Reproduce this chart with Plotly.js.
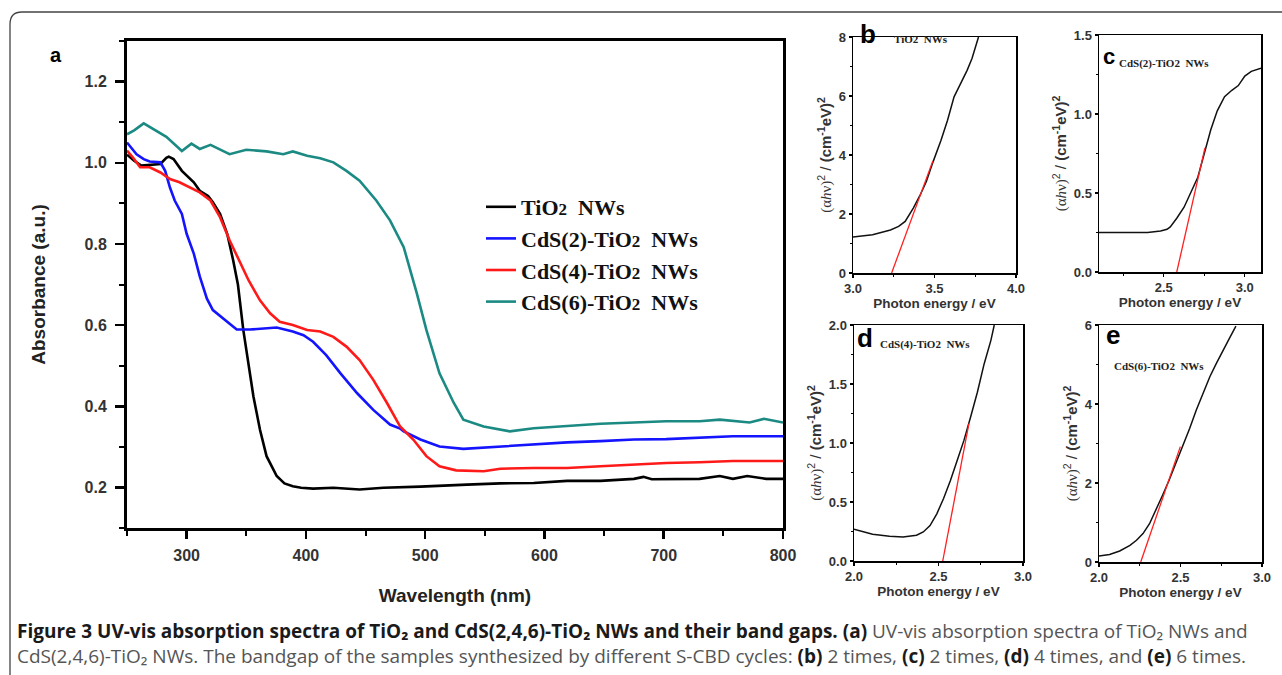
<!DOCTYPE html>
<html>
<head>
<meta charset="utf-8">
<script src="https://cdn.plot.ly/plotly-3.0.1.min.js"></script>
<style>
  html, body { margin: 0; padding: 0; background: #fff; }
  #chart { width: 1282px; height: 675px; }
</style>
</head>
<body>
<div id="chart"></div>
<script>
// ---------- Panel (a): UV-vis absorption spectra ----------
const seriesNames = ['TiO2  NWs', 'CdS(2)-TiO2  NWs', 'CdS(4)-TiO2  NWs', 'CdS(6)-TiO2  NWs'];

const tio2Wl  = [250,256,262,270,278,283,285,289,296,306,311,318,322,328,334,339,343,347.5,352,356,361.5,367,375.5,382,389,396,406,423,445,465,496,507,535,563,591,619,647,675,683,690,702,730,747,758,770,786,800];
const tio2Abs = [1.02,1.005,0.993,0.995,0.997,1.012,1.015,1.009,0.980,0.952,0.931,0.918,0.903,0.874,0.825,0.760,0.700,0.588,0.506,0.424,0.342,0.277,0.228,0.210,0.203,0.199,0.197,0.199,0.195,0.199,0.202,0.203,0.207,0.210,0.211,0.216,0.216,0.221,0.226,0.220,0.220,0.221,0.228,0.221,0.228,0.221,0.221];

const cds2Wl  = [250,251,258,264,269,278,282,286,290,296,300,306,311,317,322,334,342,353,367,375.5,389,398,406,417,429,443,456.5,470.5,479,482,496,512,532,563,591,619,647,675,702,730,758,800];
const cds2Abs = [1.05,1.046,1.021,1.009,1.003,1.001,0.980,0.939,0.907,0.874,0.825,0.776,0.720,0.665,0.637,0.608,0.589,0.589,0.592,0.594,0.584,0.575,0.559,0.526,0.481,0.432,0.391,0.355,0.345,0.338,0.318,0.301,0.295,0.301,0.306,0.311,0.314,0.318,0.319,0.322,0.326,0.326];

const cds4Wl  = [250,255,261,269,278,286,294,303,311,320,328,336,345,352,361.5,370,378,389,401,412,423,434,445,456.5,468,479,490,496,501,512,526,549,563,591,619,647,675,702,730,758,800];
const cds4Abs = [1.03,1.013,0.989,0.989,0.976,0.960,0.952,0.939,0.927,0.907,0.866,0.809,0.751,0.710,0.661,0.629,0.608,0.600,0.588,0.584,0.571,0.547,0.514,0.465,0.408,0.350,0.318,0.295,0.277,0.252,0.242,0.240,0.246,0.248,0.248,0.252,0.256,0.260,0.262,0.265,0.265];

const cds6Wl  = [250,256,264,275,283,296,304,311,320,336,350,367,381,389,401,412,423,434,445,459,470.5,482,490,493,501,512,524,532,549,571,591,619,647,675,702,730,747,772,784,800];
const cds6Abs = [1.07,1.08,1.097,1.078,1.064,1.029,1.047,1.034,1.044,1.021,1.032,1.028,1.021,1.028,1.017,1.011,1.001,0.980,0.956,0.907,0.858,0.792,0.710,0.678,0.588,0.481,0.408,0.367,0.350,0.338,0.346,0.352,0.357,0.360,0.363,0.363,0.367,0.360,0.369,0.360];

const seriesColors = ['#000000', '#1414ff', '#ff1a1a', '#1b8a83'];

// ---------- Panel (b): TiO2 NWs band gap ----------
const bEnergy = [3.0,3.12,3.23,3.28,3.32,3.37,3.41,3.45,3.49,3.54,3.58,3.62,3.66,3.70,3.73,3.76,3.77];
const bSignal = [1.22,1.30,1.46,1.58,1.75,2.20,2.62,3.10,3.75,4.50,5.18,5.97,6.42,6.87,7.27,7.89,8.0];
const bFitE = [3.237, 3.49];
const bFitY = [0, 3.8];

// ---------- Panel (c): CdS(2)-TiO2 NWs ----------
const cEnergy = [2.1,2.2,2.3,2.4,2.48,2.52,2.54,2.58,2.625,2.667,2.71,2.75,2.79,2.83,2.875,2.92,2.96,3.0,3.04,3.1];
const cSignal = [0.25,0.249,0.249,0.25,0.26,0.27,0.285,0.34,0.41,0.50,0.60,0.75,0.90,1.02,1.11,1.15,1.18,1.24,1.27,1.29];
const cFitE = [2.58, 2.754];
const cFitY = [0, 0.786];

// ---------- Panel (d): CdS(4)-TiO2 NWs ----------
const dEnergy = [2.0,2.11,2.21,2.29,2.37,2.41,2.45,2.49,2.53,2.57,2.61,2.65,2.69,2.73,2.77,2.81,2.83];
const dSignal = [0.269,0.226,0.209,0.204,0.218,0.246,0.30,0.40,0.53,0.68,0.85,1.02,1.22,1.43,1.67,1.87,2.0];
const dFitE = [2.525, 2.68];
const dFitY = [0, 1.165];

// ---------- Panel (e): CdS(6)-TiO2 NWs ----------
const eEnergy = [2.0,2.065,2.127,2.19,2.23,2.27,2.31,2.35,2.39,2.43,2.47,2.515,2.556,2.597,2.64,2.68,2.72,2.76,2.80,2.84];
const eSignal = [0.15,0.19,0.28,0.42,0.55,0.72,0.97,1.31,1.69,2.07,2.49,2.92,3.38,3.85,4.27,4.69,5.03,5.33,5.66,5.97];
const eFitE = [2.256, 2.499];
const eFitY = [0, 2.92];

// ---------- Text ----------
const panelLabels = ['a', 'b', 'c', 'd', 'e'];
const panelNames = ['TiO2  NWs', 'CdS(2)-TiO2  NWs', 'CdS(4)-TiO2  NWs', 'CdS(6)-TiO2  NWs'];
const B = t => '<span style="color:#1a1a1a"><b>' + t + '</b></span>';
const captionText =
  B('Figure 3 UV-vis absorption spectra of TiO₂ and CdS(2,4,6)-TiO₂ NWs and their band gaps. (a)') +
  ' UV-vis absorption spectra of TiO₂ NWs and<br>' +
  'CdS(2,4,6)-TiO₂ NWs. The bandgap of the samples synthesized by different S-CBD cycles: ' +
  B('(b)') + ' 2 times, ' + B('(c)') + ' 2 times, ' + B('(d)') + ' 4 times, and ' + B('(e)') + ' 6 times.';
const bandYTitle = '<span style="font-family:Liberation Serif">(α<i>h</i>ν)</span><sup>2</sup> / <b>(cm<sup>-1</sup>eV)<sup>2</sup></b>';

const W = 1282, H = 675;
const px = v => v / W;
const py = v => 1 - v / H;

const SANS = 'Liberation Sans, Arial, sans-serif';
const SERIF = 'Liberation Serif, Times New Roman, serif';

function legendName(s) {
  return s.replace('TiO2', 'TiO<span style="font-size:17px">2</span>');
}

const traces = [];
const mainX = [tio2Wl, cds2Wl, cds4Wl, cds6Wl];
const mainY = [tio2Abs, cds2Abs, cds4Abs, cds6Abs];
for (let i = 0; i < 4; i++) {
  traces.push({
    x: mainX[i], y: mainY[i], type: 'scatter', mode: 'lines',
    name: legendName(seriesNames[i]),
    line: {color: seriesColors[i], width: 2.6},
    xaxis: 'x', yaxis: 'y'
  });
}
const subData = [
  [bEnergy, bSignal, bFitE, bFitY, 'x2', 'y2'],
  [cEnergy, cSignal, cFitE, cFitY, 'x3', 'y3'],
  [dEnergy, dSignal, dFitE, dFitY, 'x4', 'y4'],
  [eEnergy, eSignal, eFitE, eFitY, 'x5', 'y5']
];
subData.forEach(s => {
  traces.push({x: s[0], y: s[1], type: 'scatter', mode: 'lines', showlegend: false,
    line: {color: '#111', width: 1.5}, xaxis: s[4], yaxis: s[5]});
  traces.push({x: s[2], y: s[3], type: 'scatter', mode: 'lines', showlegend: false,
    line: {color: '#ff2020', width: 1.3}, xaxis: s[4], yaxis: s[5]});
});

const mainTick = {family: SANS, size: 16, color: '#333', weight: 'bold'};
const subTick = {family: SANS, size: 13, color: '#333', weight: 'bold'};

function subX(anchor, domain, range, dtick, minorDtick) {
  return {anchor, domain, range, dtick, tick0: 0, tickformat: '.1f', showgrid: false, zeroline: false,
    showline: true, linecolor: '#000', linewidth: 1.5, mirror: true,
    ticks: 'outside', ticklen: 3, tickwidth: 1.2, tickcolor: '#000', tickfont: subTick,
    minor: {dtick: minorDtick, ticks: 'outside', ticklen: 2, tickwidth: 1, tickcolor: '#000', showgrid: false},
    title: {text: 'Photon energy / eV', font: {family: SANS, size: 13.5, color: '#333', weight: 'bold'}, standoff: 1}};
}
function subY(anchor, domain, range, dtick, fmt, minorDtick) {
  return {anchor, domain, range, dtick, tick0: 0, tickformat: fmt, showgrid: false, zeroline: false,
    showline: true, linecolor: '#000', linewidth: 1.5, mirror: true,
    ticks: 'outside', ticklen: 3, tickwidth: 1.2, tickcolor: '#000', tickfont: subTick,
    minor: {dtick: minorDtick, ticks: 'outside', ticklen: 2, tickwidth: 1, tickcolor: '#000', showgrid: false},
    title: {text: bandYTitle, font: {family: SANS, size: 15, color: '#333'}, standoff: 3}};
}

const layout = {
  width: W, height: H,
  margin: {l: 0, r: 0, t: 0, b: 0},
  paper_bgcolor: '#fff', plot_bgcolor: '#fff',
  showlegend: true,
  legend: {x: px(481), y: py(186), xanchor: 'left', yanchor: 'top',
    bgcolor: 'rgba(0,0,0,0)', tracegroupgap: 0,
    font: {family: SERIF, size: 22, color: '#111', weight: 'bold'}},
  xaxis: {anchor: 'y', domain: [px(127), px(783)], range: [250, 800], dtick: 100, tick0: 0,
    showgrid: false, zeroline: false, showline: true, linecolor: '#000', linewidth: 3, mirror: true,
    ticks: 'outside', ticklen: 8, tickwidth: 2.5, tickcolor: '#000', tickfont: mainTick, ticklabelstandoff: 3,
    minor: {dtick: 50, ticks: 'outside', ticklen: 5, tickwidth: 2, tickcolor: '#000', showgrid: false},
    title: {text: 'Wavelength (nm)', font: {family: SANS, size: 19, color: '#222', weight: 'bold'}, standoff: 26}},
  yaxis: {anchor: 'x', domain: [py(528), py(41)], range: [0.1, 1.3], dtick: 0.2, tick0: 0, tickformat: '.1f',
    showgrid: false, zeroline: false, showline: true, linecolor: '#000', linewidth: 3, mirror: true,
    ticks: 'outside', ticklen: 9, tickwidth: 2.5, tickcolor: '#000', tickfont: mainTick, ticklabelstandoff: 5,
    minor: {dtick: 0.1, ticks: 'outside', ticklen: 5, tickwidth: 2, tickcolor: '#000', showgrid: false},
    title: {text: 'Absorbance (a.u.)', font: {family: SANS, size: 19, color: '#222', weight: 'bold'}, standoff: 34}},
  xaxis2: subX('y2', [px(853), px(1016)], [3.0, 4.0], 0.5, 0.25),
  yaxis2: subY('x2', [py(273), py(37)], [0, 8], 2, 'd', 1),
  xaxis3: subX('y3', [px(1099), px(1261)], [2.1, 3.1], 0.5, 0.25),
  yaxis3: subY('x3', [py(272), py(35)], [0, 1.5], 0.5, '.1f', 0.25),
  xaxis4: subX('y4', [px(854), px(1023)], [2.0, 3.0], 0.5, 0.25),
  yaxis4: subY('x4', [py(561), py(325)], [0, 2.0], 0.5, '.1f', 0.25),
  xaxis5: subX('y5', [px(1099), px(1262)], [2.0, 3.0], 0.5, 0.25),
  yaxis5: subY('x5', [py(562), py(325)], [0, 6], 2, 'd', 1),
  shapes: [
    {type: 'path', xref: 'paper', yref: 'paper',
     path: `M ${px(10)},${py(675)} L ${px(10)},${py(24)} Q ${px(10)},${py(12)} ${px(22)},${py(12)} L ${px(1290)},${py(12)}`,
     line: {color: '#444', width: 1.3}}
  ],
  annotations: [
    {text: '<b>' + panelLabels[0] + '</b>', x: px(48), y: py(55), xref: 'paper', yref: 'paper', xanchor: 'left', yanchor: 'middle', showarrow: false, font: {family: SANS, size: 20, color: '#000'}},
    {text: '<b>' + panelLabels[1] + '</b>', x: px(858), y: py(34), xref: 'paper', yref: 'paper', xanchor: 'left', yanchor: 'middle', showarrow: false, font: {family: SANS, size: 26, color: '#000'}},
    {text: '<b>' + panelLabels[2] + '</b>', x: px(1101), y: py(57), xref: 'paper', yref: 'paper', xanchor: 'left', yanchor: 'middle', showarrow: false, font: {family: SANS, size: 22, color: '#000'}},
    {text: '<b>' + panelLabels[3] + '</b>', x: px(855), y: py(338), xref: 'paper', yref: 'paper', xanchor: 'left', yanchor: 'middle', showarrow: false, font: {family: SANS, size: 26, color: '#000'}},
    {text: '<b>' + panelLabels[4] + '</b>', x: px(1104), y: py(335), xref: 'paper', yref: 'paper', xanchor: 'left', yanchor: 'middle', showarrow: false, font: {family: SANS, size: 26, color: '#000'}},
    {text: '<b>' + panelNames[0] + '</b>', x: px(892), y: py(39), xref: 'paper', yref: 'paper', xanchor: 'left', yanchor: 'middle', showarrow: false, font: {family: SERIF, size: 11, color: '#222'}},
    {text: '<b>' + panelNames[1] + '</b>', x: px(1117), y: py(63), xref: 'paper', yref: 'paper', xanchor: 'left', yanchor: 'middle', showarrow: false, font: {family: SERIF, size: 11, color: '#222'}},
    {text: '<b>' + panelNames[2] + '</b>', x: px(878), y: py(344), xref: 'paper', yref: 'paper', xanchor: 'left', yanchor: 'middle', showarrow: false, font: {family: SERIF, size: 11, color: '#222'}},
    {text: '<b>' + panelNames[3] + '</b>', x: px(1112), y: py(366), xref: 'paper', yref: 'paper', xanchor: 'left', yanchor: 'middle', showarrow: false, font: {family: SERIF, size: 11, color: '#222'}},
    {text: captionText, x: px(15), y: py(643), xref: 'paper', yref: 'paper', xanchor: 'left', yanchor: 'middle', align: 'left', showarrow: false, font: {family: 'Open Sans, sans-serif', size: 19, color: '#555'}}
  ]
};

Plotly.newPlot('chart', traces, layout, {displayModeBar: false, staticPlot: true});
</script>
</body>
</html>
